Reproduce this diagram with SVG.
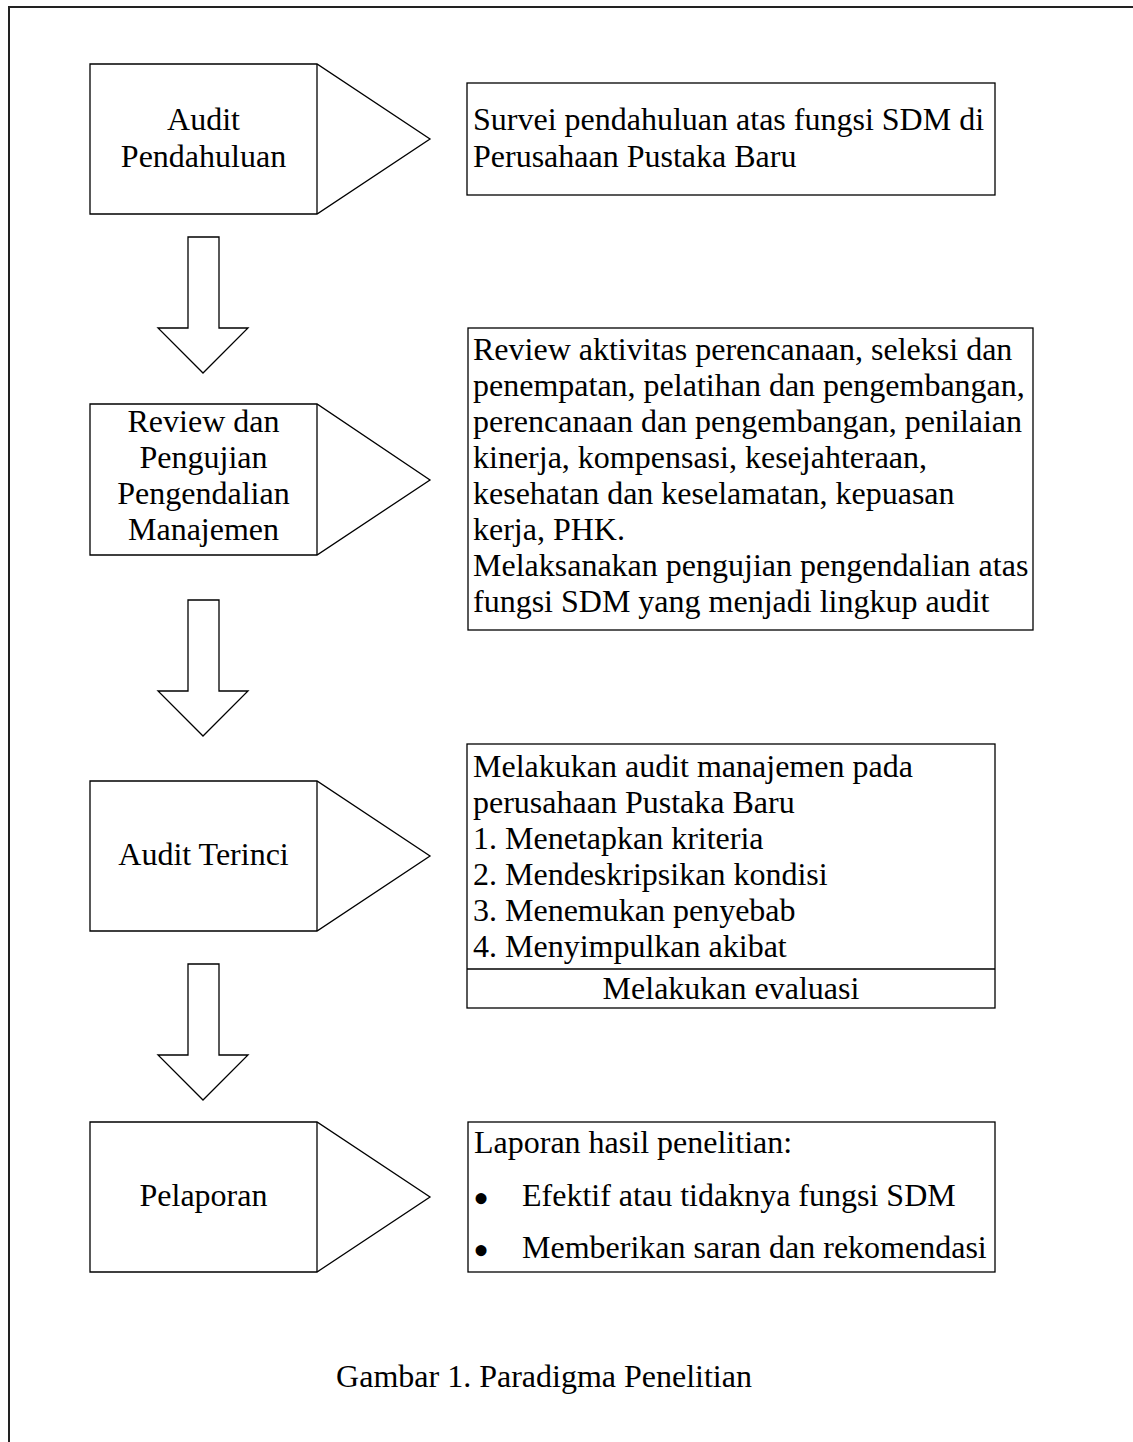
<svg xmlns="http://www.w3.org/2000/svg" width="1133" height="1442" viewBox="0 0 1133 1442">
<style>
text{font-family:"Liberation Serif","Times New Roman",serif;font-size:32px;fill:#000}
.c{text-anchor:middle}
.shape{fill:#fff;stroke:#000;stroke-width:1.3}
.line{fill:none;stroke:#000;stroke-width:1.3}
.frame{fill:none;stroke:#222;stroke-width:2}
.bul{font-size:46px}
</style>
<rect x="0" y="0" width="1133" height="1442" fill="#fff"/>
<rect class="frame" x="9" y="7" width="1200" height="1500"/>

<g id="step1">
<path class="shape" d="M90,64 H317 L430,139 L317,214 H90 Z"/>
<line class="line" x1="317" y1="64" x2="317" y2="214"/>
<text class="c" x="203.5" y="130">Audit</text>
<text class="c" x="203.5" y="167">Pendahuluan</text>
</g>
<g id="desc1">
<rect class="shape" x="467" y="83" width="528" height="112"/>
<text x="473" y="130">Survei pendahuluan atas fungsi SDM di</text>
<text x="473" y="167">Perusahaan Pustaka Baru</text>
</g>

<g id="step2">
<path class="shape" d="M90,404 H317 L430,480 L317,555 H90 Z"/>
<line class="line" x1="317" y1="404" x2="317" y2="555"/>
<text class="c" x="203.5" y="432">Review dan</text>
<text class="c" x="203.5" y="468">Pengujian</text>
<text class="c" x="203.5" y="504">Pengendalian</text>
<text class="c" x="203.5" y="540">Manajemen</text>
</g>
<g id="desc2">
<rect class="shape" x="468" y="328" width="565" height="302"/>
<text x="473" y="360">Review aktivitas perencanaan, seleksi dan</text>
<text x="473" y="396">penempatan, pelatihan dan pengembangan,</text>
<text x="473" y="432">perencanaan dan pengembangan, penilaian</text>
<text x="473" y="468">kinerja, kompensasi, kesejahteraan,</text>
<text x="473" y="504">kesehatan dan keselamatan, kepuasan</text>
<text x="473" y="540">kerja, PHK.</text>
<text x="473" y="576">Melaksanakan pengujian pengendalian atas</text>
<text x="473" y="612">fungsi SDM yang menjadi lingkup audit</text>
</g>

<g id="step3">
<path class="shape" d="M90,781 H317 L430,856 L317,931 H90 Z"/>
<line class="line" x1="317" y1="781" x2="317" y2="931"/>
<text class="c" x="203.5" y="865">Audit Terinci</text>
</g>
<g id="desc3">
<rect class="shape" x="467" y="744" width="528" height="264"/>
<line class="line" x1="467" y1="969" x2="995" y2="969"/>
<text x="473" y="777">Melakukan audit manajemen pada</text>
<text x="473" y="813">perusahaan Pustaka Baru</text>
<text x="473" y="849">1. Menetapkan kriteria</text>
<text x="473" y="885">2. Mendeskripsikan kondisi</text>
<text x="473" y="921">3. Menemukan penyebab</text>
<text x="473" y="957">4. Menyimpulkan akibat</text>
<text class="c" x="731" y="999">Melakukan evaluasi</text>
</g>

<g id="step4">
<path class="shape" d="M90,1122 H317 L430,1197 L317,1272 H90 Z"/>
<line class="line" x1="317" y1="1122" x2="317" y2="1272"/>
<text class="c" x="203.5" y="1206">Pelaporan</text>
</g>
<g id="desc4">
<rect class="shape" x="468" y="1122" width="527" height="150"/>
<text x="474" y="1153">Laporan hasil penelitian:</text>
<text class="bul" x="473" y="1214">•</text>
<text x="522" y="1206">Efektif atau tidaknya fungsi SDM</text>
<text class="bul" x="473" y="1266">•</text>
<text x="522" y="1258">Memberikan saran dan rekomendasi</text>
</g>

<g id="connectors">
<polygon class="shape" points="188,237 219,237 219,328 248,328 203,373 158,328 188,328"/>
<polygon class="shape" points="188,600 219,600 219,691 248,691 203,736 158,691 188,691"/>
<polygon class="shape" points="188,964 219,964 219,1055 248,1055 203,1100 158,1055 188,1055"/>
</g>

<g id="caption">
<text class="c" x="544" y="1387">Gambar 1. Paradigma Penelitian</text>
</g>
</svg>
